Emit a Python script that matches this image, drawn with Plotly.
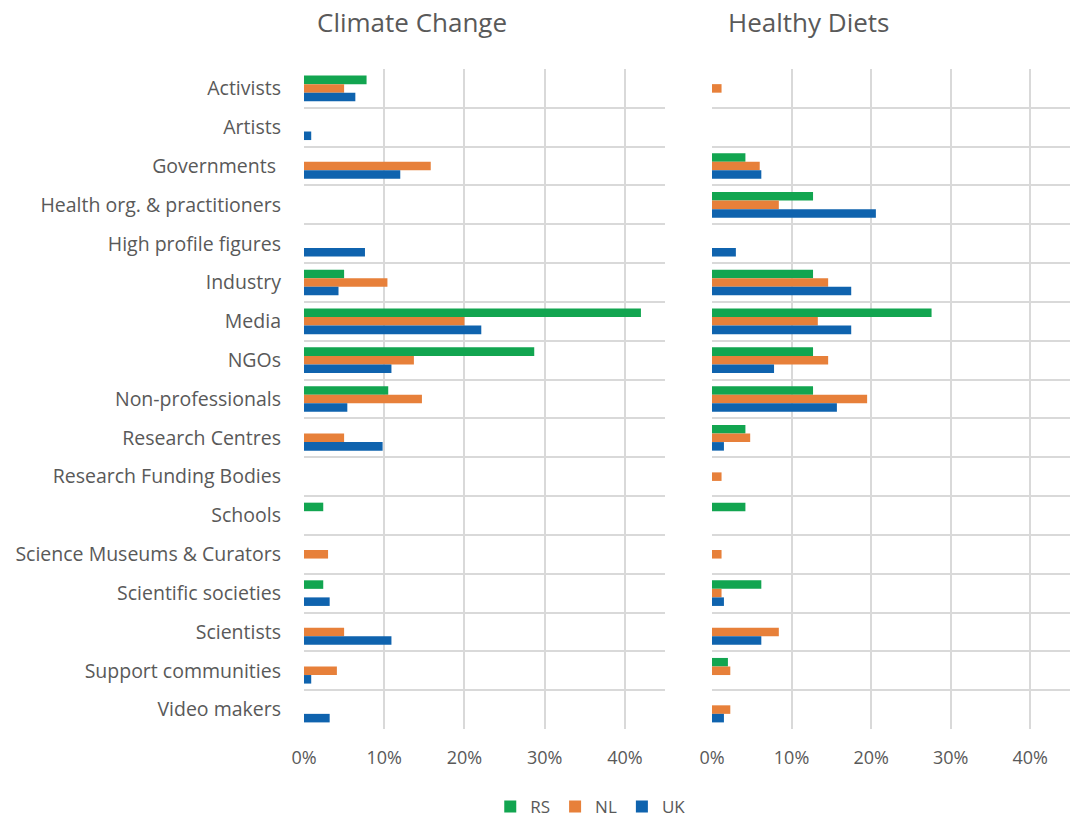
import plotly.graph_objects as go
from plotly.subplots import make_subplots

categories = ["Activists", "Artists", "Governments ", "Health org. & practitioners",
              "High profile figures", "Industry", "Media", "NGOs", "Non-professionals",
              "Research Centres", "Research Funding Bodies", "Schools",
              "Science Museums & Curators", "Scientific societies", "Scientists",
              "Support communities", "Video makers"]

# Climate Change (%)
cc_rs = [7.8, 0, 0, 0, 0, 5.0, 42.0, 28.7, 10.5, 0, 0, 2.4, 0, 2.4, 0, 0, 0]
cc_nl = [5.0, 0, 15.8, 0, 0, 10.4, 20.0, 13.7, 14.7, 5.0, 0, 0, 3.0, 0, 5.0, 4.1, 0]
cc_uk = [6.4, 0.9, 12.0, 0, 7.6, 4.3, 22.1, 10.9, 5.4, 9.8, 0, 0, 0, 3.2, 10.9, 0.9, 3.2]

# Healthy Diets (%)
hd_rs = [0, 0, 4.2, 12.7, 0, 12.7, 27.6, 12.7, 12.7, 4.2, 0, 4.2, 0, 6.2, 0, 2.0, 0]
hd_nl = [1.2, 0, 6.0, 8.4, 0, 14.6, 13.3, 14.6, 19.5, 4.8, 1.2, 0, 1.2, 1.2, 8.4, 2.3, 2.3]
hd_uk = [0, 0, 6.2, 20.6, 3.0, 17.5, 17.5, 7.8, 15.7, 1.5, 0, 0, 0, 1.5, 6.2, 0, 1.5]

series_names = ["RS", "NL", "UK"]
colors = ["#12A550", "#E7803A", "#0F63AE"]
x_ticks = [0, 10, 20, 30, 40]
x_ticklabels = ["0%", "10%", "20%", "30%", "40%"]

FONT = "Open Sans"
TXT = "#595959"
GRID = "#D9D9D9"

fig = make_subplots(rows=1, cols=2)

for data, col in [((cc_rs, cc_nl, cc_uk), 1), ((hd_rs, hd_nl, hd_uk), 2)]:
    for vals, name, c in zip(data, series_names, colors):
        fig.add_trace(go.Bar(
            y=categories, x=vals, orientation="h", name=name,
            marker=dict(color=c, line=dict(width=0)),
            showlegend=(col == 1),
        ), row=1, col=col)

fig.update_layout(
    width=1080, height=825,
    margin=dict(l=0, r=0, t=0, b=0, autoexpand=False),
    paper_bgcolor="white", plot_bgcolor="white",
    barmode="group", bargap=0.34, bargroupgap=0,
    font=dict(family=FONT, color=TXT, size=16),
    legend=dict(orientation="h", x=0.547, xanchor="center", y=0.0, yanchor="bottom",
                font=dict(size=17, color=TXT), traceorder="normal",
                itemwidth=30, tracegroupgap=0),
)

xcommon = dict(range=[0, 45], tickvals=x_ticks, ticktext=x_ticklabels,
               showgrid=True, gridcolor=GRID, gridwidth=2, zeroline=False,
               showline=False, ticks="", tickfont=dict(size=18, color=TXT),
               ticklabelstandoff=16, automargin=False)
fig.update_xaxes(**xcommon)
fig.update_xaxes(domain=[304/1080, 665/1080], row=1, col=1)
fig.update_xaxes(domain=[712/1080, 1070/1080], row=1, col=2)

ycommon = dict(type="category", categoryorder="array", categoryarray=categories,
               autorange="reversed", tickson="boundaries", showgrid=True,
               gridcolor=GRID, gridwidth=2, ticks="", showline=False, automargin=False,
               domain=[1 - 729/825, 1 - 69/825])
fig.update_yaxes(**ycommon)
fig.update_yaxes(tickfont=dict(size=19.5, color=TXT), ticklabelstandoff=22, row=1, col=1)
fig.update_yaxes(showticklabels=False, row=1, col=2)

fig.add_annotation(text="Climate Change", x=412/1080, y=1 - 22/825, xref="paper", yref="paper",
                   xanchor="center", yanchor="middle",
                   showarrow=False, font=dict(size=26, color=TXT, family=FONT))
fig.add_annotation(text="Healthy Diets", x=808/1080, y=1 - 22/825, xref="paper", yref="paper",
                   xanchor="center", yanchor="middle",
                   showarrow=False, font=dict(size=26, color=TXT, family=FONT))

fig.write_html("out.html", config={"displayModeBar": False},
               post_script="document.body.style.margin='0';document.body.style.overflow='hidden';")
